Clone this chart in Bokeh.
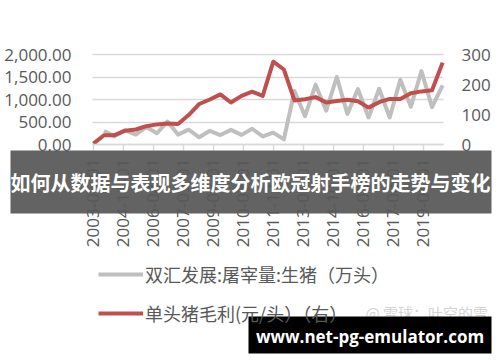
import numpy as np
from bokeh.plotting import figure
from bokeh.models import (Range1d, LinearAxis, FixedTicker, NumeralTickFormatter, Grid,
                          Legend, LegendItem, Label, BoxAnnotation, ColumnDataSource)
from bokeh.embed import file_html
from bokeh.resources import INLINE

# ---- data ----
dates = ["2003-06-01", "2003-12-01", "2004-06-01", "2004-12-01", "2005-06-01", "2005-12-01",
         "2006-06-01", "2006-12-01", "2007-06-01", "2007-12-01", "2008-06-01", "2008-12-01",
         "2009-06-01", "2009-12-01", "2010-06-01", "2010-12-01", "2011-06-01", "2011-12-01",
         "2012-06-01", "2012-12-01", "2013-06-01", "2013-12-01", "2014-06-01", "2014-12-01",
         "2015-06-01", "2015-12-01", "2016-06-01", "2016-12-01", "2017-06-01", "2017-12-01",
         "2018-06-01", "2018-12-01", "2019-06-01", "2019-12-01"]
slaughter = [float("nan"), 300, 180, 320, 220, 390, 250, 510, 220, 330, 160, 305,
             210, 325, 214, 350, 180, 265, 115, 1190, 630, 1330, 750, 1500,
             680, 1230, 600, 1240, 600, 1440, 840, 1630, 830, 1315]
margin = [3, 31, 31, 46, 50, 61, 67, 70, 68, 98, 135, 150,
          167, 140, 162, 176, 162, 276, 250, 147, 151, 158, 140, 145,
          149, 144, 123, 141, 152, 152, 171, 177, 181, 273]
tick_labels = ["2003-06-01", "2004-11-01", "2006-04-01", "2007-09-01", "2009-02-01", "2010-07-01",
               "2011-12-01", "2013-05-01", "2014-10-01", "2016-03-01", "2017-08-01", "2019-01-01"]
left_ticks = [0, 500, 1000, 1500, 2000]
right_ticks = [0, 100, 200, 300]
series_names = ["双汇发展:屠宰量:生猪（万头）", "单头猪毛利(元/头）（右）"]
title_text = "如何从数据与表现多维度分析欧冠射手榜的走势与变化"
watermark_text = "@ 雪球：叶空的雪"
site_text = "www.net-pg-emulator.com"


def month_index(s):
    y, m, _ = s.split("-")
    return (int(y) - 2003) * 12 + (int(m) - 6)


x = [month_index(d) for d in dates]
tick_pos = [month_index(d) for d in tick_labels]

# ---- layout (pixels) ----
W, H = 500, 362
PA_L, PA_R, PA_T, PA_B = 92, 443, 54, 144   # plot area in canvas pixels
X0, X1 = x[0] - 0.5, x[-1] + 0.5
sx = (PA_R - PA_L) / (X1 - X0)
L0, L1 = left_ticks[0], left_ticks[-1]
R0, R1 = right_ticks[0], right_ticks[-1]
syl = (PA_B - PA_T) / (L1 - L0)
syr = (PA_B - PA_T) / (R1 - R0)

x_range = Range1d(X0 - PA_L / sx, X1 + (W - PA_R) / sx)
y_range = Range1d(L0 - (H - PA_B) / syl, L1 + PA_T / syl)
r_range = Range1d(R0 - (H - PA_B) / syr, R1 + PA_T / syr)

src = ColumnDataSource(dict(x=x, slaughter=slaughter, margin=margin))

GREY_TXT = "#595959"
FONT = "Open Sans"
CJK = "Noto Sans CJK SC"

p = figure(width=W, height=H, output_backend="svg", toolbar_location=None,
           x_range=x_range, y_range=y_range, min_border=0)
p.outline_line_color = None
p.background_fill_color = "white"
p.border_fill_color = "white"
p.extra_y_ranges = {"r": r_range}

# grids
p.xgrid.grid_line_color = None
p.ygrid.ticker = FixedTicker(ticks=left_ticks)
grid_ok = "cross_bounds" in Grid.properties()
if grid_ok:
    p.ygrid.cross_bounds = (X0, X1)
    p.ygrid.grid_line_color = "#d9d9d9"
    p.ygrid.grid_line_width = 1.5
else:
    p.ygrid.grid_line_color = None
    p.segment(x0=[X0] * len(left_ticks), x1=[X1] * len(left_ticks), y0=left_ticks, y1=left_ticks,
              line_color="#d9d9d9", line_width=1.5)

# x axis (drawn at value 0)
xa = p.xaxis[0]
xa.fixed_location = 0
xa.bounds = (X0, X1)
xa.ticker = FixedTicker(ticks=tick_pos)
xa.major_label_overrides = {t: l for t, l in zip(tick_pos, tick_labels)}
xa.major_label_orientation = np.pi / 2
xa.axis_line_color = "#d9d9d9"
xa.axis_line_width = 1.5
xa.major_tick_line_color = "#d9d9d9"
xa.major_tick_line_width = 1.5
xa.major_tick_out = 6
xa.major_tick_in = 0
xa.minor_tick_line_color = None
xa.major_label_standoff = 8
xa.major_label_text_font = FONT
xa.major_label_text_font_size = "17px"
xa.major_label_text_color = GREY_TXT

# left axis
ya = p.yaxis[0]
ya.fixed_location = X0
ya.bounds = (L0, L1)
ya.ticker = FixedTicker(ticks=left_ticks)
ya.formatter = NumeralTickFormatter(format="0,0.00")
ya.axis_line_color = None
ya.major_tick_line_color = None
ya.minor_tick_line_color = None
ya.major_tick_out = 0
ya.major_label_standoff = 21
ya.major_label_text_font = FONT
ya.major_label_text_font_size = "17px"
ya.major_label_text_color = GREY_TXT

# right axis
ra = LinearAxis(y_range_name="r", ticker=FixedTicker(ticks=right_ticks), fixed_location=X1,
                bounds=(R0, R1))
ra.axis_line_color = None
ra.major_tick_line_color = None
ra.minor_tick_line_color = None
ra.major_tick_out = 0
ra.major_label_standoff = 18
ra.major_label_text_font = FONT
ra.major_label_text_font_size = "17px"
ra.major_label_text_color = GREY_TXT
p.add_layout(ra, "right")

# lines
r1 = p.line("x", "slaughter", source=src, line_color="#bfbfbf", line_width=4, line_join="round")
r2 = p.line("x", "margin", source=src, y_range_name="r", line_color="#c0504d", line_width=4,
            line_join="round")

# legend
legend = Legend(items=[LegendItem(label=series_names[0], renderers=[r1]),
                       LegendItem(label=series_names[1], renderers=[r2])],
                location=(98, H - 326), orientation="vertical",
                glyph_width=45, glyph_height=20, label_height=20, label_standoff=2,
                spacing=13, padding=0, margin=0,
                border_line_color=None, background_fill_alpha=0,
                label_text_font=CJK, label_text_font_size="18px", label_text_color=GREY_TXT)
p.add_layout(legend)

# watermark
p.add_layout(Label(x=365, y=H - 312, x_units="screen", y_units="screen", text=watermark_text,
                   text_font=CJK, text_font_size="15px", text_color="#d4d4d4",
                   text_baseline="middle", text_align="left"))

# banner
p.add_layout(BoxAnnotation(left=10, right=491, top=H - 150, bottom=H - 213,
                           left_units="screen", right_units="screen",
                           top_units="screen", bottom_units="screen",
                           fill_color="#575757", fill_alpha=0.93, line_color=None, level="overlay"))
p.add_layout(Label(x=250, y=H - 182, x_units="screen", y_units="screen", text=title_text,
                   text_font=CJK, text_font_size="20px", text_font_style="bold",
                   text_color="white", text_align="center", text_baseline="middle", level="overlay"))

# site box
p.add_layout(BoxAnnotation(left=248, right=491, top=H - 316, bottom=H - 353,
                           left_units="screen", right_units="screen",
                           top_units="screen", bottom_units="screen",
                           fill_color="black", fill_alpha=1.0, line_color=None, level="overlay"))
p.add_layout(Label(x=369.5, y=H - 336, x_units="screen", y_units="screen", text=site_text,
                   text_font=FONT, text_font_size="17px", text_font_style="bold",
                   text_color="white", text_align="center", text_baseline="middle", level="overlay"))

open("out.html", "w").write(file_html(p, INLINE))
